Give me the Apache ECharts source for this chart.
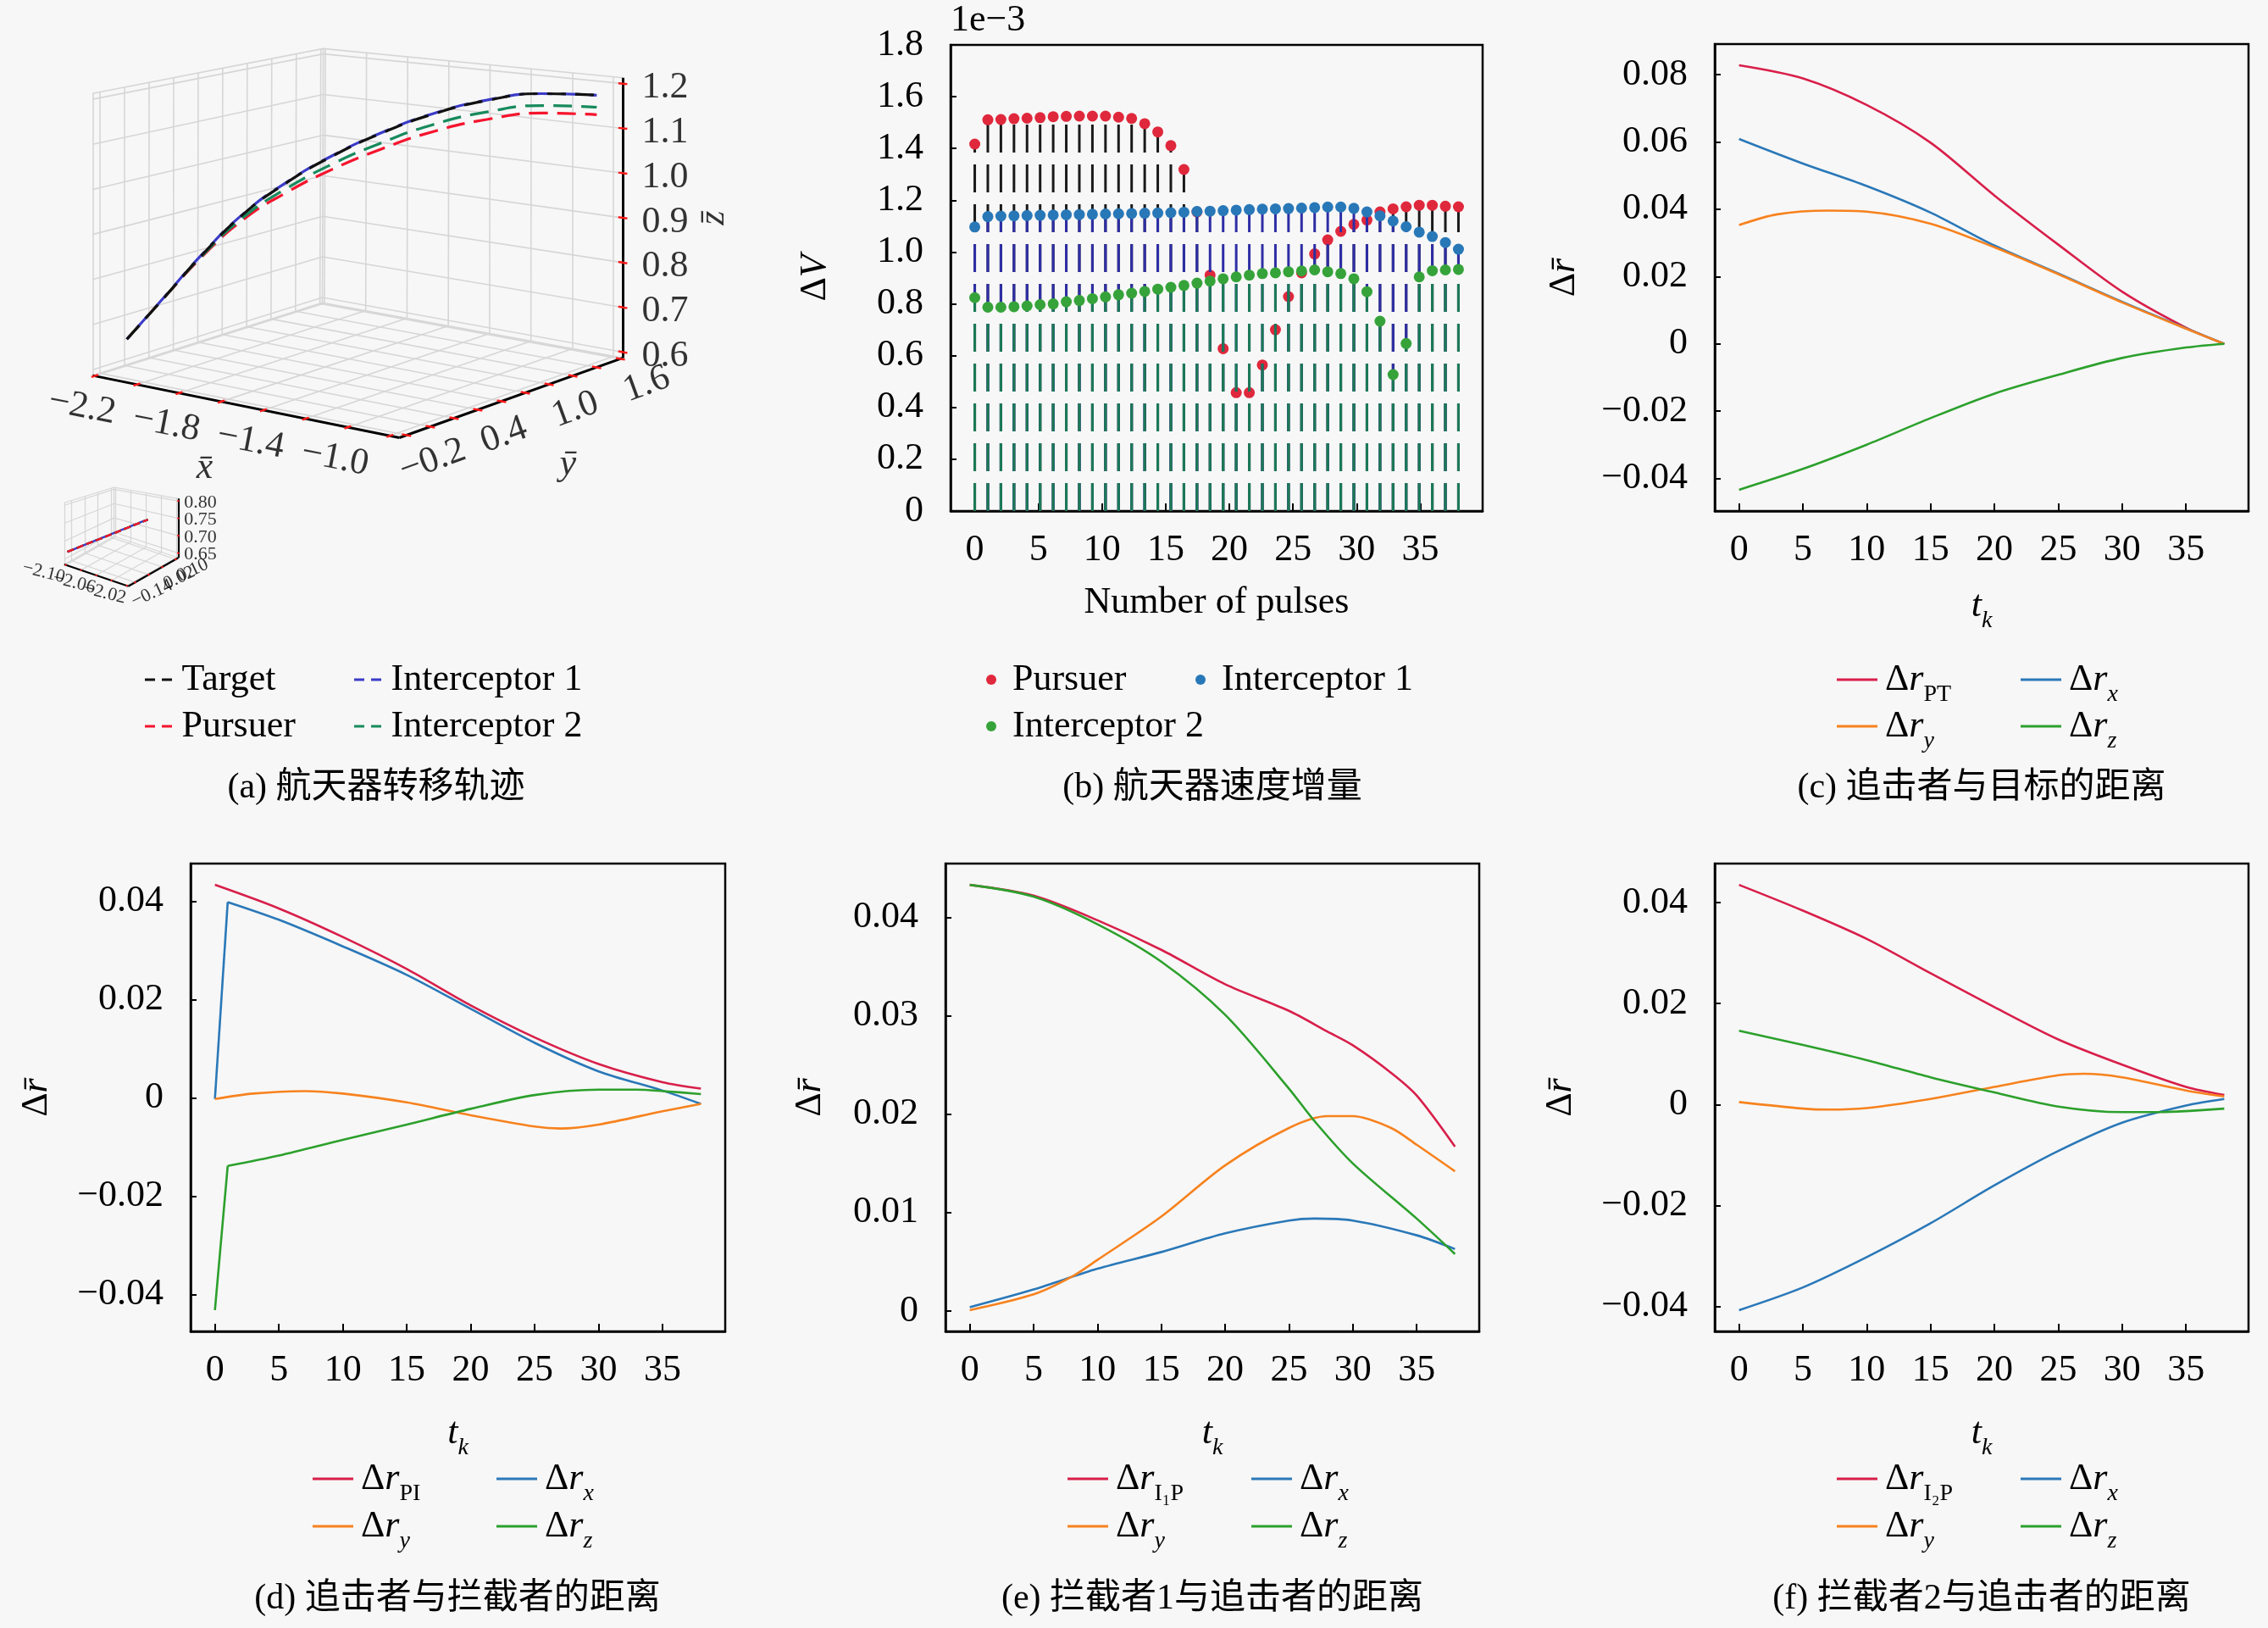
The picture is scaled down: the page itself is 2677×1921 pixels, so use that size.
<!DOCTYPE html>
<html>
<head>
<meta charset="utf-8">
<script src="https://cdn.jsdelivr.net/npm/echarts@6/dist/echarts.min.js"></script>
<style>
html, body { margin: 0; padding: 0; background: #f7f7f7; }
#main { width: 2677px; height: 1921px; }
</style>
</head>
<body>
<div id="main"></div>
<script>
var FONT = '"Liberation Serif", "Noto Sans CJK SC", serif';
var BG = '#f7f7f7';

// (a) transfer trajectories, [x, y, z] at 11 instants
var trajTarget  = [[-2.10,-0.17,0.670],[-2.04,0.035,0.752],[-1.98,0.240,0.836],[-1.90,0.442,0.919],[-1.81,0.639,0.982],[-1.70,0.829,1.037],[-1.57,1.010,1.085],[-1.42,1.179,1.126],[-1.25,1.335,1.156],[-1.065,1.476,1.172],[-0.87,1.600,1.170]];
var trajInt1    = [[-2.10,-0.17,0.670],[-2.04,0.035,0.753],[-1.98,0.240,0.837],[-1.90,0.442,0.920],[-1.81,0.639,0.983],[-1.70,0.829,1.038],[-1.57,1.010,1.086],[-1.42,1.179,1.127],[-1.25,1.335,1.157],[-1.065,1.476,1.172],[-0.87,1.600,1.170]];
var trajPursuer = [[-2.10,-0.17,0.670],[-2.04,0.035,0.752],[-1.98,0.240,0.832],[-1.90,0.442,0.907],[-1.81,0.639,0.960],[-1.70,0.829,1.007],[-1.57,1.010,1.049],[-1.42,1.179,1.086],[-1.25,1.335,1.113],[-1.065,1.476,1.128],[-0.87,1.600,1.126]];
var trajInt2    = [[-2.10,-0.17,0.670],[-2.04,0.035,0.752],[-1.98,0.240,0.834],[-1.90,0.442,0.912],[-1.81,0.639,0.969],[-1.70,0.829,1.019],[-1.57,1.010,1.063],[-1.42,1.179,1.102],[-1.25,1.335,1.130],[-1.065,1.476,1.145],[-0.87,1.600,1.143]];

var ticksX3d = [-2.2,-2.0,-1.8,-1.6,-1.4,-1.2,-1.0,-0.8];
var ticksY3d = [-0.2,0,0.2,0.4,0.6,0.8,1.0,1.2,1.4,1.6];
var ticksZ3d = [0.6,0.7,0.8,0.9,1.0,1.1,1.2];
var labelsX3d = [-2.2,-1.8,-1.4,-1.0];
var labelsY3d = [-0.2,0.4,1.0,1.6];
var insetTicksX = [-2.10,-2.08,-2.06,-2.04,-2.02];
var insetTicksY = [-0.14,-0.06,0.02,0.10];
var insetTicksZ = [0.65,0.70,0.75,0.80];
var insetLabelsX = [-2.10,-2.06,-2.02];
var insetLabelsY = [-0.14,0.02,0.10];

// (b) velocity increments per pulse (x 1e-3)
var dvPursuer = [1.417,1.511,1.512,1.515,1.517,1.519,1.523,1.524,1.525,1.525,1.525,1.521,1.516,1.496,1.464,1.411,1.319,1.155,0.911,0.627,0.457,0.457,0.564,0.700,0.828,0.920,0.993,1.047,1.080,1.107,1.124,1.155,1.167,1.175,1.181,1.181,1.177,1.175];
var dvInt1 = [1.097,1.137,1.139,1.140,1.141,1.142,1.143,1.144,1.145,1.146,1.147,1.148,1.149,1.150,1.151,1.152,1.154,1.157,1.158,1.160,1.162,1.164,1.166,1.167,1.168,1.170,1.172,1.174,1.174,1.169,1.155,1.140,1.120,1.098,1.077,1.060,1.037,1.011];
var dvInt2 = [0.824,0.787,0.787,0.789,0.792,0.797,0.800,0.808,0.813,0.820,0.827,0.835,0.841,0.848,0.857,0.864,0.871,0.880,0.888,0.897,0.904,0.911,0.917,0.920,0.924,0.927,0.931,0.924,0.917,0.897,0.847,0.733,0.527,0.647,0.904,0.928,0.931,0.933];
var dvTicks = [0,0.2,0.4,0.6,0.8,1.0,1.2,1.4,1.6,1.8];

// (c)-(f) relative distances, [t_k, value]
var cPT = [[0,0.0828],[5,0.0789],[10,0.0710],[15,0.0598],[20,0.0441],[25,0.0295],[30,0.0155],[35,0.0048],[38,0]];
var cX  = [[0,0.0609],[5,0.0536],[10,0.0469],[15,0.0390],[20,0.0292],[25,0.0209],[30,0.0125],[35,0.0046],[38,0]];
var cY  = [[0,0.0353],[3,0.0385],[7,0.0396],[10,0.0393],[15,0.0357],[20,0.0287],[25,0.0207],[30,0.0123],[35,0.0045],[38,0]];
var cZ  = [[0,-0.0434],[5,-0.0372],[10,-0.0300],[15,-0.0221],[20,-0.0148],[25,-0.0092],[30,-0.0042],[35,-0.0011],[38,0]];

var dPI = [[0,0.0433],[5,0.0385],[10,0.0327],[15,0.0262],[20,0.0188],[25,0.0123],[30,0.0069],[35,0.0032],[38,0.0019]];
var dX  = [[0,-0.0002],[1,0.0398],[5,0.0362],[10,0.0308],[15,0.0250],[20,0.0181],[25,0.0112],[30,0.0054],[35,0.0015],[38,-0.0012]];
var dY  = [[0,-0.0002],[3,0.0009],[7,0.0014],[10,0.0009],[15,-0.0009],[20,-0.0035],[25,-0.0058],[27,-0.0062],[30,-0.0054],[35,-0.0027],[38,-0.0012]];
var dZ  = [[0,-0.0431],[1,-0.0138],[5,-0.0117],[10,-0.0085],[15,-0.0054],[20,-0.0022],[25,0.0006],[30,0.0017],[33,0.0017],[35,0.0014],[38,0.0008]];

var eI1P = [[0,0.0433],[5,0.0422],[10,0.0397],[15,0.0367],[20,0.0332],[25,0.0305],[28,0.0284],[30,0.0270],[33,0.0242],[35,0.0219],[38,0.0167]];
var eX   = [[0,0.0004],[5,0.0022],[10,0.0043],[15,0.0060],[20,0.0079],[25,0.0092],[27,0.0094],[30,0.0092],[35,0.0077],[38,0.0063]];
var eY   = [[0,0.0001],[5,0.0017],[8,0.0035],[10,0.0052],[15,0.0096],[20,0.0148],[25,0.0186],[28,0.0198],[30,0.0198],[33,0.0186],[35,0.0169],[38,0.0142]];
var eZ   = [[0,0.0433],[5,0.0421],[10,0.0393],[15,0.0355],[20,0.0301],[25,0.0226],[27,0.0193],[30,0.0150],[35,0.0094],[38,0.0058]];

var fI2P = [[0,0.0435],[5,0.0384],[10,0.0328],[15,0.0260],[20,0.0193],[25,0.0129],[30,0.0079],[35,0.0035],[38,0.0019]];
var fX   = [[0,-0.0407],[5,-0.0362],[10,-0.0302],[15,-0.0235],[20,-0.0160],[25,-0.0092],[30,-0.0036],[35,-0.0002],[38,0.0011]];
var fY   = [[0,0.0005],[5,-0.0008],[7,-0.0010],[10,-0.0007],[15,0.0011],[20,0.0035],[25,0.0058],[27,0.0061],[30,0.0054],[35,0.0028],[38,0.0016]];
var fZ   = [[0,0.0146],[5,0.0118],[10,0.0088],[15,0.0054],[20,0.0024],[25,-0.0004],[30,-0.0015],[33,-0.0015],[35,-0.0013],[38,-0.0008]];

var tkTicks = [0,5,10,15,20,25,30,35];
var ticksC = [-0.04,-0.02,0,0.02,0.04,0.06,0.08];
var ticksD = [-0.04,-0.02,0,0.02,0.04];
var ticksE = [0,0.01,0.02,0.03,0.04];
var ticksF = [-0.04,-0.02,0,0.02,0.04];

var RED = '#d81f4a', BLUE = '#2a78b8', ORANGE = '#f7821e', GREEN = '#2ca02c';

// ---------- 3D box (perspective approximated from the box corners) ----------
var boxMain = {
  xr: [-2.21, -0.755], yr: [-0.26, 1.62], zr: [0.587, 1.213],
  L0: [109.4, 443.1], F0: [471.4, 516.5], B0: [380.5, 357.2], R0: [735.1, 422.4],
  L1: [109.4, 110.2], F1: [471.4, 154.5], B1: [381.6, 57.4], R1: [735.1, 91.8]
};
var boxInset = {
  xr: [-2.102, -2.018], yr: [-0.18, 0.115], zr: [0.636, 0.807],
  L0: [75.8, 666], F0: [151.5, 691.7], B0: [134.7, 632.7], R0: [210.4, 658.3],
  L1: [75.8, 593.3], F1: [151.5, 611], B1: [134.7, 575], R1: [210.4, 588.3]
};

function proj(b, p) {
  var u = (p[0] - b.xr[0]) / (b.xr[1] - b.xr[0]);
  var v = (p[1] - b.yr[0]) / (b.yr[1] - b.yr[0]);
  var w = (p[2] - b.zr[0]) / (b.zr[1] - b.zr[0]);
  function bil(a, f, bb, r, k) {
    return (1-u)*(1-v)*a[k] + u*(1-v)*f[k] + (1-u)*v*bb[k] + u*v*r[k];
  }
  var lx = bil(b.L0, b.F0, b.B0, b.R0, 0), ly = bil(b.L0, b.F0, b.B0, b.R0, 1);
  var hx = bil(b.L1, b.F1, b.B1, b.R1, 0), hy = bil(b.L1, b.F1, b.B1, b.R1, 1);
  return [lx + (hx - lx) * w, ly + (hy - ly) * w];
}

function fmt(v, d) {
  if (Math.abs(v) < 1e-12) return '0';
  return (v < 0 ? '\u2212' : '') + Math.abs(v).toFixed(d);
}

function build3d(b, tx, ty, tz, lx, ly, o) {
  var X = b.xr, Y = b.yr, Z = b.zr;
  function P(x, y, z) { return proj(b, [x, y, z]); }
  var grid = [], axes = [], ticks = [], labels = [];
  function g(a, c) { grid.push({coords: [a, c]}); }
  tx.forEach(function (x) { g(P(x, Y[0], Z[0]), P(x, Y[1], Z[0])); g(P(x, Y[1], Z[0]), P(x, Y[1], Z[1])); });
  ty.forEach(function (y) { g(P(X[0], y, Z[0]), P(X[1], y, Z[0])); g(P(X[0], y, Z[0]), P(X[0], y, Z[1])); });
  tz.forEach(function (z) { g(P(X[0], Y[0], z), P(X[0], Y[1], z)); g(P(X[0], Y[1], z), P(X[1], Y[1], z)); });
  g(P(X[0], Y[0], Z[0]), P(X[0], Y[0], Z[1]));
  g(P(X[0], Y[1], Z[0]), P(X[0], Y[1], Z[1]));
  g(P(X[0], Y[0], Z[1]), P(X[0], Y[1], Z[1]));
  g(P(X[0], Y[1], Z[1]), P(X[1], Y[1], Z[1]));
  g(P(X[0], Y[0], Z[0]), P(X[0], Y[1], Z[0]));
  g(P(X[0], Y[1], Z[0]), P(X[1], Y[1], Z[0]));
  axes.push({coords: [P(X[0], Y[0], Z[0]), P(X[1], Y[0], Z[0])]});
  axes.push({coords: [P(X[1], Y[0], Z[0]), P(X[1], Y[1], Z[0])]});
  axes.push({coords: [P(X[1], Y[1], Z[0]), P(X[1], Y[1], Z[1])]});
  var dy = 0.015 * (Y[1] - Y[0]), dx = 0.015 * (X[1] - X[0]);
  tx.forEach(function (x) { ticks.push({coords: [P(x, Y[0] - dy, Z[0]), P(x, Y[0] + dy, Z[0])]}); });
  ty.forEach(function (y) { ticks.push({coords: [P(X[1] - dx, y, Z[0]), P(X[1] + dx, y, Z[0])]}); });
  tz.forEach(function (z) { ticks.push({coords: [P(X[1] - dx, Y[1], z), P(X[1] + dx, Y[1], z)]}); });
  lx.forEach(function (x) {
    var p = P(x, Y[0], Z[0]);
    labels.push({value: [p[0] + o.xo[0], p[1] + o.xo[1]], name: fmt(x, o.d), label: {rotate: o.xr}});
  });
  ly.forEach(function (y) {
    var p = P(X[1], y, Z[0]);
    labels.push({value: [p[0] + o.yo[0], p[1] + o.yo[1]], name: fmt(y, o.d), label: {rotate: o.yrot}});
  });
  tz.forEach(function (z) {
    var p = P(X[1], Y[1], z);
    labels.push({value: [p[0] + o.zo[0], p[1] + o.zo[1]], name: fmt(z, o.dz), label: {rotate: 0}});
  });
  return {grid: grid, axes: axes, ticks: ticks, labels: labels};
}

var main3d = build3d(boxMain, ticksX3d, ticksY3d, ticksZ3d, labelsX3d, labelsY3d,
  {xo: [-15, 37], yo: [31, 30], zo: [50, 5], d: 1, dz: 1, xr: -11, yrot: 20});
var inset3d = build3d(boxInset, insetTicksX, insetTicksY, insetTicksZ, insetLabelsX, insetLabelsY,
  {xo: [-26, 9], yo: [20, 13], zo: [26, 2], d: 2, dz: 2, xr: -14, yrot: 25});

function P3(b, traj) { return traj.map(function (p) { return proj(b, p); }); }

var series = [];
function linesSeries(data, color, width, z) {
  return {type: 'lines', coordinateSystem: 'cartesian2d', xAxisIndex: 0, yAxisIndex: 0, silent: true,
    polyline: false, z: z, data: data, lineStyle: {color: color, width: width, opacity: 1}};
}
function labelSeries(data, size, italic) {
  return {type: 'scatter', xAxisIndex: 0, yAxisIndex: 0, silent: true, z: 5, symbolSize: 1,
    itemStyle: {color: 'rgba(0,0,0,0)'}, data: data,
    label: {show: true, position: 'inside', formatter: '{b}', color: '#000', fontFamily: FONT,
      fontSize: size, fontStyle: italic ? 'italic' : 'normal'}};
}
[main3d, inset3d].forEach(function (m, k) {
  series.push(linesSeries(m.grid, '#d6d6d6', k ? 1.2 : 1.6, 1));
  series.push(linesSeries(m.axes, '#000', k ? 2.2 : 3, 2));
  series.push(linesSeries(m.ticks, '#ff1a1a', k ? 2 : 2.5, 3));
  series.push(labelSeries(m.labels, k ? 22 : 44, false));
});
var mx = proj(boxMain, [(boxMain.xr[0] + boxMain.xr[1]) / 2, boxMain.yr[0], boxMain.zr[0]]);
var my = proj(boxMain, [boxMain.xr[1], (boxMain.yr[0] + boxMain.yr[1]) / 2, boxMain.zr[0]]);
var mz = proj(boxMain, [boxMain.xr[1], boxMain.yr[1], (boxMain.zr[0] + boxMain.zr[1]) / 2]);
series.push(labelSeries([
  {value: [mx[0] - 49, mx[1] + 73], name: 'x\u0304'},
  {value: [my[0] + 67, my[1] + 79], name: 'y\u0304'},
  {value: [mz[0] + 107, mz[1]], name: 'z\u0304', label: {rotate: 90}}
], 44, true));

// [name, data, colour, dash, offset, z in main plot, z in inset]
var trajDefs = [
  ['aPursuer', trajPursuer, '#f5142d', [22, 11], 0, 6, 13],
  ['aInt2', trajInt2, '#178a5c', [22, 11], 0, 7, 12],
  ['aInt1', trajInt1, '#3b3bc8', [22, 11], 16, 8, 10],
  ['aTarget', trajTarget, '#111111', [22, 11], 0, 9, 11]
];
trajDefs.forEach(function (t) {
  series.push({type: 'line', name: t[0], xAxisIndex: 0, yAxisIndex: 0, z: t[5], symbol: 'none', smooth: 0.5,
    data: P3(boxMain, t[1]), lineStyle: {color: t[2], width: 3.2, type: t[3], dashOffset: t[4]},
    itemStyle: {color: t[2]}});
  series.push({type: 'line', xAxisIndex: 0, yAxisIndex: 0, z: t[6], symbol: 'none',
    data: P3(boxInset, t[1].slice(0, 2)), lineStyle: {color: t[2], width: 2.4, type: [8, 4], dashOffset: t[4] / 3}});
});

// ---------- (b) stem plot ----------
var pulseX = dvPursuer.map(function (v, i) { return i * 38 / 37; });
function stems(vals, color, z) {
  return {type: 'custom', xAxisIndex: 1, yAxisIndex: 1, z: z, silent: true,
    data: vals.map(function (v, i) { return [pulseX[i], v]; }),
    renderItem: function (params, api) {
      var p1 = api.coord([api.value(0), 0]);
      var p2 = api.coord([api.value(0), api.value(1)]);
      return {type: 'line', shape: {x1: p1[0], y1: p1[1], x2: p2[0], y2: p2[1]},
        style: {stroke: color, lineWidth: 3, lineDash: [33, 14]}};
    }};
}
function dots(name, vals, color, z) {
  return {type: 'scatter', name: name, xAxisIndex: 1, yAxisIndex: 1, z: z, symbolSize: 13,
    itemStyle: {color: color, opacity: 1},
    data: vals.map(function (v, i) { return [pulseX[i], v]; })};
}
series.push(stems(dvPursuer, '#1a1a1a', 2));
series.push(dots('bPursuer', dvPursuer, '#e0283c', 3));
series.push(stems(dvInt1, '#2e2ea6', 4));
series.push(dots('bInt1', dvInt1, '#2878b8', 5));
series.push(stems(dvInt2, '#1b7a55', 6));
series.push(dots('bInt2', dvInt2, '#36a33a', 7));

// ---------- (c)-(f) line panels ----------
// series with a jump after the first pulse: the jump is drawn straight, the rest smoothed
var panels = [
  {gi: 2, s: [['cPT', cPT, RED], ['cX', cX, BLUE], ['cY', cY, ORANGE], ['cZ', cZ, GREEN]], ticks: ticksC},
  {gi: 3, s: [['dPI', dPI, RED], ['dX', dX, BLUE, true], ['dY', dY, ORANGE], ['dZ', dZ, GREEN, true]], ticks: ticksD},
  {gi: 4, s: [['eI1P', eI1P, RED], ['eX', eX, BLUE], ['eY', eY, ORANGE], ['eZ', eZ, GREEN]], ticks: ticksE},
  {gi: 5, s: [['fI2P', fI2P, RED], ['fX', fX, BLUE], ['fY', fY, ORANGE], ['fZ', fZ, GREEN]], ticks: ticksF}
];
panels.forEach(function (p) {
  var lo = Infinity, hi = -Infinity;
  p.s.forEach(function (s) {
    s[1].forEach(function (d) { lo = Math.min(lo, d[1]); hi = Math.max(hi, d[1]); });
    var body = s[3] ? s[1].slice(1) : s[1];
    series.push({type: 'line', name: s[0], xAxisIndex: p.gi, yAxisIndex: p.gi, symbol: 'none',
      smooth: 0.3, z: 3, data: body, lineStyle: {color: s[2], width: 2.6}, itemStyle: {color: s[2]}});
    if (s[3]) {
      series.push({type: 'line', xAxisIndex: p.gi, yAxisIndex: p.gi, symbol: 'none', z: 3,
        data: s[1].slice(0, 2), lineStyle: {color: s[2], width: 2.6}});
    }
  });
  var m = (hi - lo) * 0.05;
  p.min = lo - m; p.max = hi + m;
});

// ---------- axes ----------
var RICH = {
  it: {fontFamily: FONT, fontSize: 44, fontStyle: 'italic', lineHeight: 64, color: '#000'},
  sub: {fontFamily: FONT, fontSize: 28, verticalAlign: 'bottom', color: '#000'},
  subi: {fontFamily: FONT, fontSize: 28, fontStyle: 'italic', verticalAlign: 'bottom', color: '#000'}
};
var grids = [
  {left: 0, top: 0, width: 2677, height: 1921, show: false},
  {left: 1122, top: 53, width: 628, height: 550},
  {left: 2024, top: 52, width: 630, height: 551},
  {left: 225, top: 1019, width: 631, height: 552},
  {left: 1116, top: 1019, width: 630, height: 552},
  {left: 2024, top: 1019, width: 630, height: 552}
];
grids.forEach(function (g, i) {
  if (i > 0) { g.show = true; g.borderColor = '#000'; g.borderWidth = 2.5; g.backgroundColor = 'transparent'; }
});
var xAxes = [{type: 'value', gridIndex: 0, min: 0, max: 2677, show: false}];
var yAxes = [{type: 'value', gridIndex: 0, min: 0, max: 1921, inverse: true, show: false}];

function xAx(gi, name, gap) {
  return {type: 'value', gridIndex: gi, min: -1.9, max: 39.9,
    axisLine: {show: true, onZero: false, lineStyle: {color: '#000', width: 2.5}},
    axisTick: {show: true, inside: true, length: 9, customValues: tkTicks, lineStyle: {color: '#000', width: 2}},
    axisLabel: {customValues: tkTicks, fontFamily: FONT, fontSize: 44, color: '#000', margin: 24},
    splitLine: {show: false},
    name: name, nameLocation: 'middle', nameGap: gap,
    nameTextStyle: {fontFamily: FONT, fontSize: 44, color: '#000', rich: RICH}};
}
function yAx(gi, min, max, ticks, dec, name, gap) {
  return {type: 'value', gridIndex: gi, min: min, max: max,
    axisLine: {show: true, onZero: false, lineStyle: {color: '#000', width: 2.5}},
    axisTick: {show: true, inside: true, length: 7, customValues: ticks, lineStyle: {color: '#000', width: 2}},
    axisLabel: {customValues: ticks, fontFamily: FONT, fontSize: 44, color: '#000', margin: 32,
      formatter: function (v) { return fmt(v, dec); }},
    splitLine: {show: false},
    name: name, nameLocation: 'middle', nameGap: gap, nameRotate: 90,
    nameTextStyle: {fontFamily: FONT, fontSize: 44, color: '#000', rich: RICH}};
}
xAxes.push(xAx(1, 'Number of pulses', 86));
yAxes.push(yAx(1, 0, 1.8, dvTicks, 1, '\u0394{it|V}', 128));
var yGaps = [146, 150, 128, 150];
panels.forEach(function (p, i) {
  xAxes.push(xAx(p.gi, '{it|t}{subi|k}', i === 0 ? 80 : 88));
  yAxes.push(yAx(p.gi, p.min, p.max, p.ticks, 2, '\u0394{it|r\u0304}', yGaps[i]));
});

// ---------- legends ----------
var legendText = {
  aTarget: 'Target', aInt1: 'Interceptor 1', aPursuer: 'Pursuer', aInt2: 'Interceptor 2',
  bPursuer: 'Pursuer', bInt1: 'Interceptor 1', bInt2: 'Interceptor 2',
  cPT: '\u0394{it|r}{sub|PT}', dPI: '\u0394{it|r}{sub|PI}', eI1P: '\u0394{it|r}{sub|I\u2081P}', fI2P: '\u0394{it|r}{sub|I\u2082P}'
};
['c', 'd', 'e', 'f'].forEach(function (k) {
  legendText[k + 'X'] = '\u0394{it|r}{subi|x}';
  legendText[k + 'Y'] = '\u0394{it|r}{subi|y}';
  legendText[k + 'Z'] = '\u0394{it|r}{subi|z}';
});
var legendDefs = [
  ['aTarget', 171, 802, 'dash'], ['aInt1', 418, 802, 'dash'], ['aPursuer', 171, 857, 'dash'], ['aInt2', 418, 857, 'dash'],
  ['bPursuer', 1164, 802, 'dot'], ['bInt1', 1411, 802, 'dot'], ['bInt2', 1164, 857, 'dot'],
  ['cPT', 2168, 802, 'line'], ['cX', 2385, 802, 'line'], ['cY', 2168, 857, 'line'], ['cZ', 2385, 857, 'line'],
  ['dPI', 369, 1745, 'line'], ['dX', 586, 1745, 'line'], ['dY', 369, 1801, 'line'], ['dZ', 586, 1801, 'line'],
  ['eI1P', 1260, 1745, 'line'], ['eX', 1477, 1745, 'line'], ['eY', 1260, 1801, 'line'], ['eZ', 1477, 1801, 'line'],
  ['fI2P', 2168, 1745, 'line'], ['fX', 2385, 1745, 'line'], ['fY', 2168, 1801, 'line'], ['fZ', 2385, 1801, 'line']
];
var legends = legendDefs.map(function (d) {
  var kind = d[3];
  var l = {data: [d[0]], left: d[1], top: d[2] - 32, padding: 0, itemGap: 0, selectedMode: false,
    textStyle: {fontFamily: FONT, fontSize: 44, color: '#000', lineHeight: 64,
      padding: [0, 0, 0, kind === 'dot' ? 14 : 4], rich: RICH},
    formatter: function (n) { return legendText[n]; }};
  if (kind === 'dot') { l.icon = 'circle'; l.itemWidth = 12; l.itemHeight = 12; }
  if (kind === 'dash') { l.icon = 'path://M0,0h12v3h-12z M20,0h12v3h-12z'; l.itemWidth = 37; l.itemHeight = 3; }
  if (kind === 'line') { l.icon = 'path://M0,0h48v3h-48z'; l.itemWidth = 48; l.itemHeight = 3; }
  return l;
});

// ---------- captions ----------
var captions = [
  ['(a) \u822a\u5929\u5668\u8f6c\u79fb\u8f68\u8ff9', 444, 930],
  ['(b) \u822a\u5929\u5668\u901f\u5ea6\u589e\u91cf', 1431, 930],
  ['(c) \u8ffd\u51fb\u8005\u4e0e\u76ee\u6807\u7684\u8ddd\u79bb', 2339, 930],
  ['(d) \u8ffd\u51fb\u8005\u4e0e\u62e6\u622a\u8005\u7684\u8ddd\u79bb', 540, 1887],
  ['(e) \u62e6\u622a\u80051\u4e0e\u8ffd\u51fb\u8005\u7684\u8ddd\u79bb', 1431, 1887],
  ['(f) \u62e6\u622a\u80052\u4e0e\u8ffd\u51fb\u8005\u7684\u8ddd\u79bb', 2339, 1887]
];
var graphics = captions.map(function (c) {
  return {type: 'text', x: c[1], y: c[2], z: 10,
    style: {text: c[0], fontFamily: FONT, fontSize: 42, fill: '#000', align: 'center', verticalAlign: 'middle'}};
});
graphics.push({type: 'text', x: 1122, y: 24, z: 10,
  style: {text: '1e\u22123', fontFamily: FONT, fontSize: 44, fill: '#000', align: 'left', verticalAlign: 'middle'}});

var chart = echarts.init(document.getElementById('main'));
chart.setOption({
  backgroundColor: BG,
  animation: false,
  grid: grids,
  xAxis: xAxes,
  yAxis: yAxes,
  legend: legends,
  graphic: graphics,
  series: series
});
</script>
</body>
</html>
